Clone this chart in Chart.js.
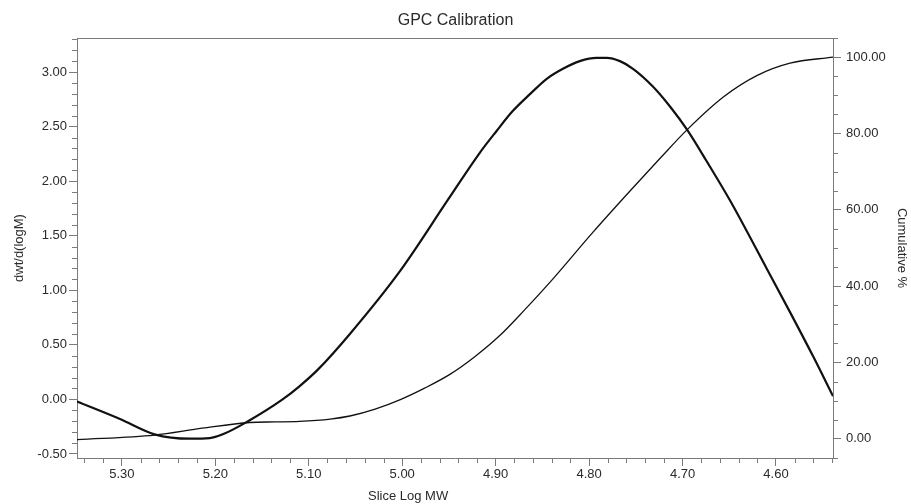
<!DOCTYPE html>
<html>
<head>
<meta charset="utf-8">
<script src="https://cdn.jsdelivr.net/npm/chart.js@4/dist/chart.umd.min.js"></script>
<style>
  html, body { margin: 0; padding: 0; background: #ffffff; }
  #wrap { width: 911px; height: 504px; }
</style>
</head>
<body>
<div id="wrap"><canvas id="c" width="911" height="504"></canvas></div>
<script>
// ---- data ----
const dwtLogMW = [5.348, 5.302, 5.265, 5.227, 5.206, 5.192, 5.165, 5.128, 5.110, 5.090,
  5.056, 5.002, 4.951, 4.917, 4.899, 4.882, 4.863, 4.845, 4.828, 4.810, 4.792, 4.781,
  4.767, 4.753, 4.732, 4.713, 4.695, 4.674, 4.649, 4.610, 4.585, 4.560, 4.539];
const dwtValues = [-0.02, -0.18, -0.32, -0.36, -0.355, -0.32, -0.20, 0.00, 0.12, 0.275,
  0.60, 1.18, 1.83, 2.26, 2.46, 2.64, 2.80, 2.94, 3.03, 3.10, 3.13, 3.13,
  3.10, 3.03, 2.87, 2.68, 2.47, 2.18, 1.82, 1.20, 0.80, 0.39, 0.03];

const cumLogMW = [5.348, 5.265, 5.214, 5.163, 5.136, 5.110, 5.077, 5.056, 5.029,
  5.002, 4.976, 4.949, 4.922, 4.895, 4.869, 4.842, 4.796, 4.756, 4.724, 4.695,
  4.656, 4.620, 4.585, 4.539];
const cumValues = [-0.2, 1.0, 2.8, 4.3, 4.45, 4.6, 5.2, 6.0, 7.8,
  10.3, 13.3, 16.9, 21.6, 27.2, 33.8, 41.0, 54.1, 65.0, 73.5, 81.0,
  89.6, 95.2, 98.4, 100.0];

const xTickLabels = [5.30, 5.20, 5.10, 5.00, 4.90, 4.80, 4.70, 4.60];
const leftTickLabels = [-0.50, 0.00, 0.50, 1.00, 1.50, 2.00, 2.50, 3.00];
const rightTickLabels = [0, 20, 40, 60, 80, 100];

const chartTitle = 'GPC Calibration';
const xTitle = 'Slice Log MW';
const leftTitle = 'dwt/d(logM)';
const rightTitle = 'Cumulative %';

// ---- styling ----
const FONT = '"Liberation Sans", Arial, Helvetica, sans-serif';
const axisColor = '#7a7a7a';
const textColor = '#2a2a2a';
const lineColor = '#111111';

const dwtPoints = dwtLogMW.map((x, i) => ({ x: x, y: dwtValues[i] }));
const cumPoints = cumLogMW.map((x, i) => ({ x: x, y: cumValues[i] }));

const minorSpec = { x: 0.02, y: 0.1, y1: 5 };
const majorEvery = { x: 5, y: 5, y1: 4 };

const framePlugin = {
  id: 'framePlugin',
  afterDraw(chart) {
    const ctx = chart.ctx;
    const a = chart.chartArea;
    ctx.save();
    ctx.strokeStyle = axisColor;
    ctx.lineWidth = 1;
    ctx.beginPath();
    // top frame line
    ctx.moveTo(a.left, Math.round(a.top) + 0.5);
    ctx.lineTo(a.right, Math.round(a.top) + 0.5);
    // minor ticks
    Object.keys(minorSpec).forEach(id => {
      const s = chart.scales[id];
      const step = minorSpec[id];
      const k0 = Math.ceil(s.min / step - 1e-9);
      const k1 = Math.floor(s.max / step + 1e-9);
      for (let k = k0; k <= k1; k++) {
        if (k % majorEvery[id] === 0) continue;
        const p = Math.round(s.getPixelForValue(k * step)) + 0.5;
        if (id === 'x') {
          ctx.moveTo(p, a.bottom); ctx.lineTo(p, a.bottom + 5);
        } else if (id === 'y') {
          ctx.moveTo(a.left, p); ctx.lineTo(a.left - 5, p);
        } else {
          ctx.moveTo(a.right, p); ctx.lineTo(a.right + 5, p);
        }
      }
    });
    ctx.stroke();
    // x axis title (placed left of centre, as in the reference)
    ctx.fillStyle = textColor;
    ctx.font = '13px ' + FONT;
    ctx.textAlign = 'center';
    ctx.textBaseline = 'middle';
    ctx.fillText(xTitle, a.left + (a.right - a.left) * 0.438, 496);
    ctx.restore();
  }
};

const fmt2 = v => Number(v).toFixed(2);

new Chart(document.getElementById('c'), {
  type: 'line',
  data: {
    datasets: [
      {
        label: 'dwt/d(logM)',
        data: dwtPoints,
        yAxisID: 'y',
        borderColor: lineColor,
        borderWidth: 2.2,
        pointRadius: 0,
        fill: false,
        cubicInterpolationMode: 'monotone'
      },
      {
        label: 'Cumulative %',
        data: cumPoints,
        yAxisID: 'y1',
        borderColor: lineColor,
        borderWidth: 1.3,
        pointRadius: 0,
        fill: false,
        cubicInterpolationMode: 'monotone'
      }
    ]
  },
  options: {
    responsive: false,
    animation: false,
    devicePixelRatio: 1,
    layout: { padding: 0 },
    plugins: {
      legend: { display: false },
      tooltip: { enabled: false },
      title: {
        display: true,
        text: chartTitle,
        color: textColor,
        font: { family: FONT, size: 16, weight: 'normal' },
        padding: { top: 11, bottom: 7.8 }
      }
    },
    scales: {
      x: {
        type: 'linear',
        position: 'bottom',
        reverse: true,
        min: 4.539,
        max: 5.348,
        afterBuildTicks: s => { s.ticks = xTickLabels.map(v => ({ value: v })); },
        afterFit: s => { s.height = 46; },
        grid: { drawOnChartArea: false, drawTicks: true, tickLength: 8, color: axisColor },
        border: { display: true, color: axisColor, width: 1 },
        ticks: {
          autoSkip: false, maxRotation: 0, padding: 1,
          color: textColor, font: { family: FONT, size: 13 },
          callback: v => fmt2(v)
        },
        title: { display: false }
      },
      y: {
        type: 'linear',
        position: 'left',
        min: -0.537,
        max: 3.312,
        afterBuildTicks: s => { s.ticks = leftTickLabels.map(v => ({ value: v })); },
        afterFit: s => { s.width = 77; },
        grid: { drawOnChartArea: false, drawTicks: true, tickLength: 8, color: axisColor },
        border: { display: true, color: axisColor, width: 1 },
        ticks: {
          autoSkip: false, padding: 2,
          color: textColor, font: { family: FONT, size: 13 },
          callback: v => fmt2(v)
        },
        title: {
          display: true, text: leftTitle, color: textColor,
          font: { family: FONT, size: 13 },
          padding: { top: 12, bottom: 0 }
        }
      },
      y1: {
        type: 'linear',
        position: 'right',
        min: -5,
        max: 105,
        afterBuildTicks: s => { s.ticks = rightTickLabels.map(v => ({ value: v })); },
        afterFit: s => { s.width = 78; },
        grid: { drawOnChartArea: false, drawTicks: true, tickLength: 8, color: axisColor },
        border: { display: true, color: axisColor, width: 1 },
        ticks: {
          autoSkip: false, padding: 5,
          color: textColor, font: { family: FONT, size: 13 },
          callback: v => fmt2(v)
        },
        title: {
          display: true, text: rightTitle, color: textColor,
          font: { family: FONT, size: 13 },
          padding: { top: 2, bottom: 0 }
        }
      }
    }
  },
  plugins: [framePlugin]
});
</script>
</body>
</html>
